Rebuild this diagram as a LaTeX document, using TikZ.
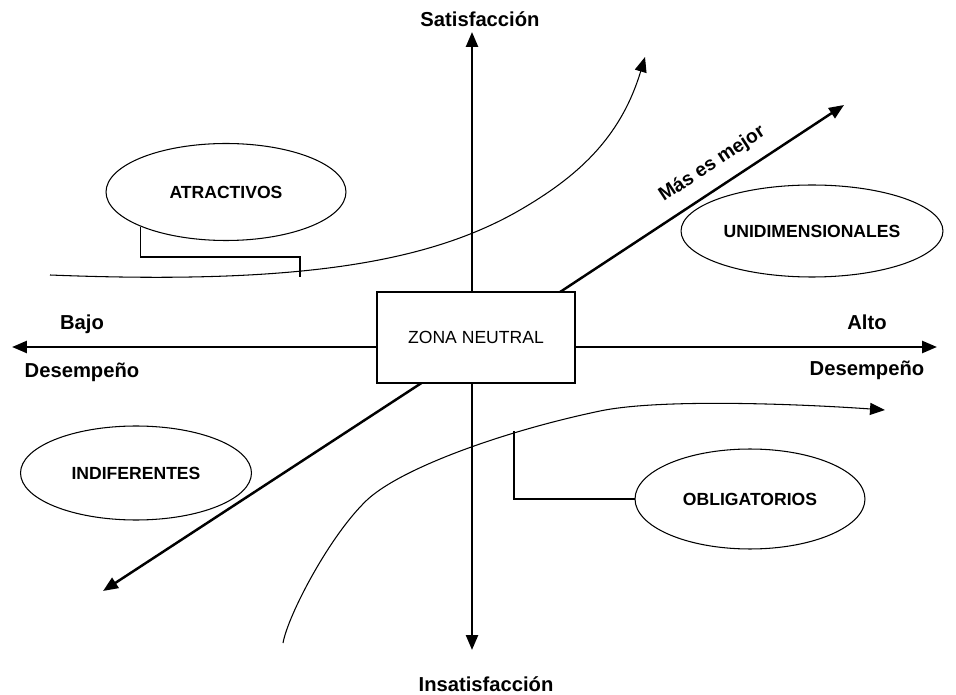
\documentclass[tikz,border=0pt]{standalone}
\usepackage{fontspec}
\setmainfont{Liberation Sans}
\usetikzlibrary{positioning,shapes,arrows.meta}

\begin{document}
\begin{tikzpicture}[x=0.02cm,y=-0.02cm,
  axis/.style={line width=1.4pt,-{Triangle[length=0.3cm,width=0.24cm]}},
  curve/.style={line width=0.6pt,-{Triangle[length=0.3cm,width=0.24cm]}},
  zone/.style={ellipse,draw,line width=0.6pt,inner sep=0pt,font=\bfseries\fontsize{10}{12}\selectfont},
  axlabel/.style={anchor=base,font=\bfseries\fontsize{11.5}{13}\selectfont},
  link/.style={line width=0.6pt}]
\useasboundingbox (0,0) rectangle (956,695);
% axis ends
\coordinate (mid) at (472,350);
\coordinate (top) at (472,32);
\coordinate (bottom) at (472,650);
\coordinate (left) at (12,347);
\coordinate (right) at (937,347);
\coordinate (ne) at (844,105);
\coordinate (sw) at (103,591);
% diagonal, hidden behind the box
\draw[axis] (mid) -- node[pos=0.68,sloped,above=4pt,font=\bfseries\fontsize{11}{13}\selectfont] (better) {Más es mejor} (ne);
\draw[axis] (mid) -- (sw);
% central box
\node[draw,fill=white,line width=0.6pt,minimum width=3.96cm,minimum height=1.82cm,font=\fontsize{10}{12}\selectfont] (neutral) at (476,337.5) {ZONA NEUTRAL};
\draw[axis] (top |- neutral.north) -- (top);
\draw[axis] (bottom |- neutral.south) -- (bottom);
\draw[axis] (neutral.west |- left) -- (left);
\draw[axis] (neutral.east |- right) -- (right);
% axis labels
\node[axlabel] (sat) at (480,27) {Satisfacción};
\node[axlabel] (insat) at (486,691) {Insatisfacción};
\node[axlabel] (bajo) at (82,330) {Bajo};
\node[axlabel] (desl) at (82,378) {Desempeño};
\node[axlabel] (alto) at (867,330) {Alto};
\node[axlabel] (desr) at (867,376) {Desempeño};
% categories
\node[zone,minimum width=4.8cm,minimum height=1.94cm] (attr) at (226,192) {ATRACTIVOS};
\node[zone,minimum width=5.24cm,minimum height=1.84cm] (unid) at (812,231) {UNIDIMENSIONALES};
\node[zone,minimum width=4.62cm,minimum height=1.88cm] (indif) at (136,473) {INDIFERENTES};
\node[zone,minimum width=4.6cm,minimum height=2cm] (oblig) at (750,499) {OBLIGATORIOS};
% curves
\coordinate (att-start) at (50,275);
\coordinate (att-end) at (645,57);
\draw[curve] (att-start) .. controls (300,285) and (430,262) .. (520,210)
  .. controls (575,178) and (620,140) .. (att-end);
\coordinate (obl-start) at (283,643);
\coordinate (obl-end) at (885,410);
\draw[curve] (obl-start) .. controls (288,615) and (330,535) .. (367,500)
  .. controls (400,469) and (500,432) .. (600,411)
  .. controls (660,398.4) and (800,404) .. (obl-end);
% brackets
\coordinate (atr-knee) at (300,257);
\coordinate (atr-foot) at (300,277);
\draw[link] (attr.202) |- (atr-knee) -- (atr-foot);
\coordinate (obl-foot) at (514,431);
\draw[link] (oblig.west) -| (obl-foot);
\end{tikzpicture}
\end{document}
